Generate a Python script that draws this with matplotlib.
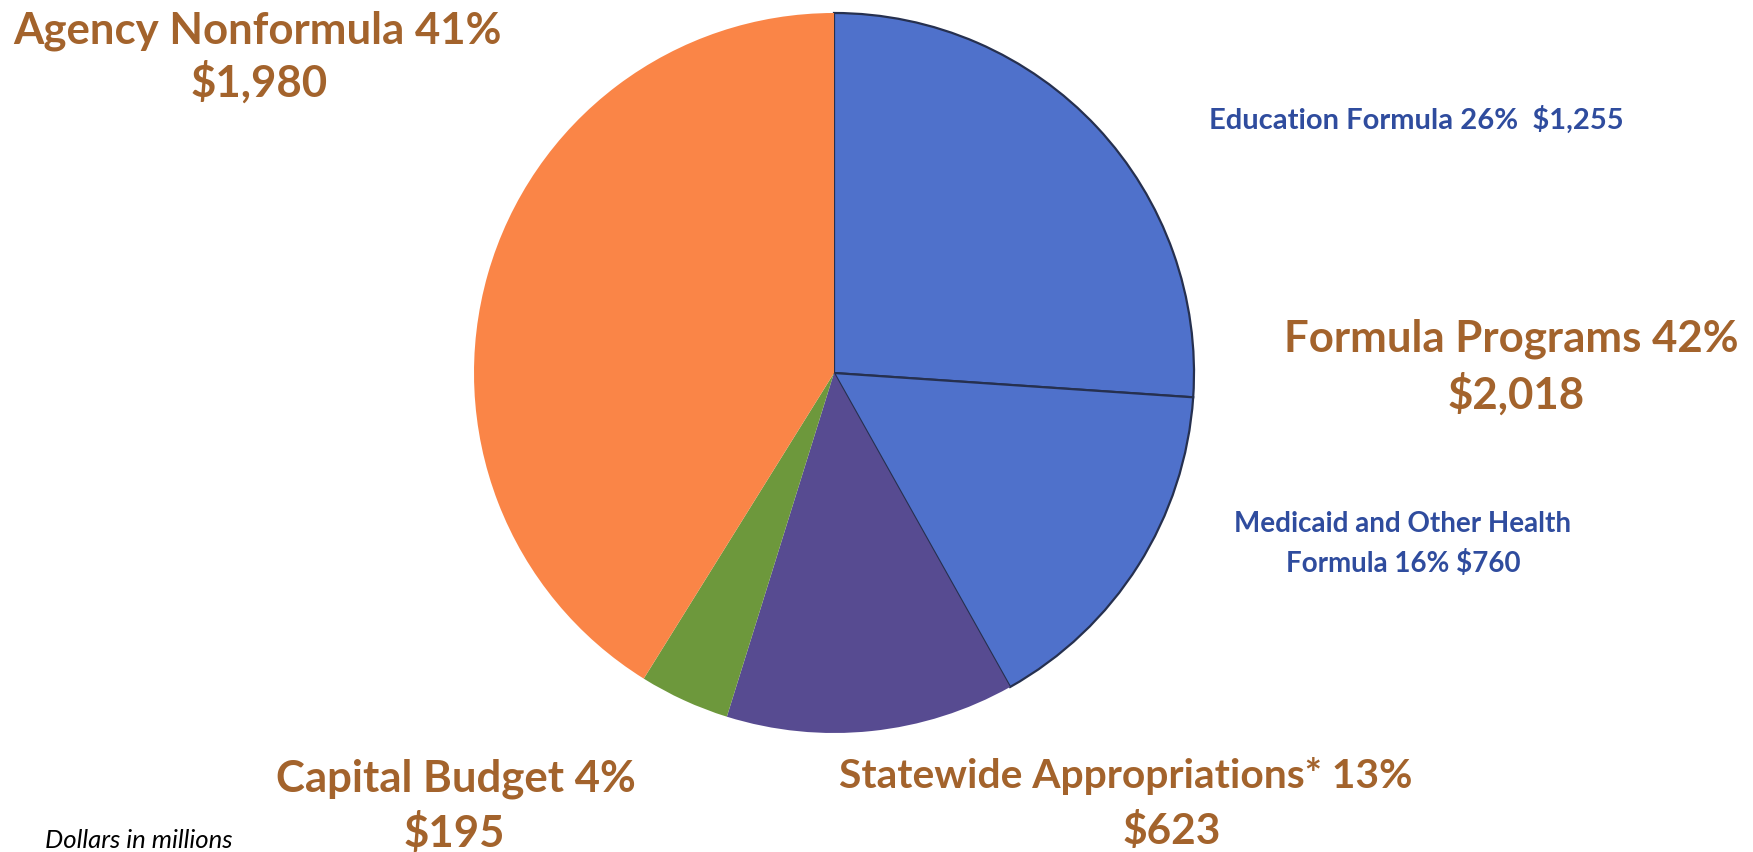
import matplotlib.pyplot as plt

# General fund spending, dollars in millions
names = ["Education Formula", "Medicaid and Other Health Formula",
         "Statewide Appropriations*", "Capital Budget", "Agency Nonformula"]
amounts = [1255, 760, 623, 195, 1980]
pcts = [26, 16, 13, 4, 41]
group_name = "Formula Programs"
group_pct = 42
group_amount = 2018

slice_colors = ["#4F71CB", "#4F71CB", "#574B91", "#6D983C", "#FA8547"]
brown = "#A3632C"
blue = "#2F4C9E"

W, H = 1753, 852
plt.rcParams['font.family'] = ['Lato', 'DejaVu Sans']

fig = plt.figure(figsize=(W / 100, H / 100), dpi=100)
ax = fig.add_axes([0, 0, 1, 1])

wedges, _ = ax.pie(amounts, colors=slice_colors, startangle=90, counterclock=False,
                   center=(834, H - 373), radius=360, frame=True,
                   wedgeprops=dict(linewidth=0))
# the two formula slices carry a dark outline
for w in wedges[:2]:
    w.set_edgecolor("#26304F")
    w.set_linewidth(1.6)

ax.set_xlim(0, W)
ax.set_ylim(0, H)
ax.set_aspect('auto')
ax.axis('off')


def money(v):
    return "${:,}".format(v)


big = dict(fontsize=31.5, fontweight='bold', color=brown, ha='center', va='center')
small = dict(fontsize=21, fontweight='bold', color=blue, ha='center', va='center')

# Agency Nonformula
ax.text(257, H - 31, "Agency Nonformula {}%".format(pcts[4]), **big)
ax.text(259, H - 82, money(amounts[4]), **big)

# Formula programs group
ax.text(1511, H - 339, "{} {}%".format(group_name, group_pct), **big)
ax.text(1516, H - 394, money(group_amount), **big)

# Capital Budget
ax.text(456, H - 779, "Capital Budget {}%".format(pcts[3]), **big)
ax.text(454, H - 833, money(amounts[3]), **big)

# Statewide Appropriations
sw = dict(big, fontsize=29.3)
ax.text(1126, H - 776, "{} {}%".format(names[2], pcts[2]), **sw)
ax.text(1172, H - 831, money(amounts[2]), **dict(big, fontsize=30.5))

# Blue formula labels
ax.text(1416, H - 120, "{} {}%  {}".format(names[0], pcts[0], money(amounts[0])), **small)
small_m = dict(small, fontsize=20)
ax.text(1403, H - 544, "Medicaid and Other Health\nFormula {}% {}".format(pcts[1], money(amounts[1])),
        linespacing=1.55, multialignment='center', **small_m)

ax.text(45, H - 841, "Dollars in millions", fontsize=18.5, style='italic', color='black',
        ha='left', va='center')

fig.savefig("out.png", dpi=100, facecolor='white')
